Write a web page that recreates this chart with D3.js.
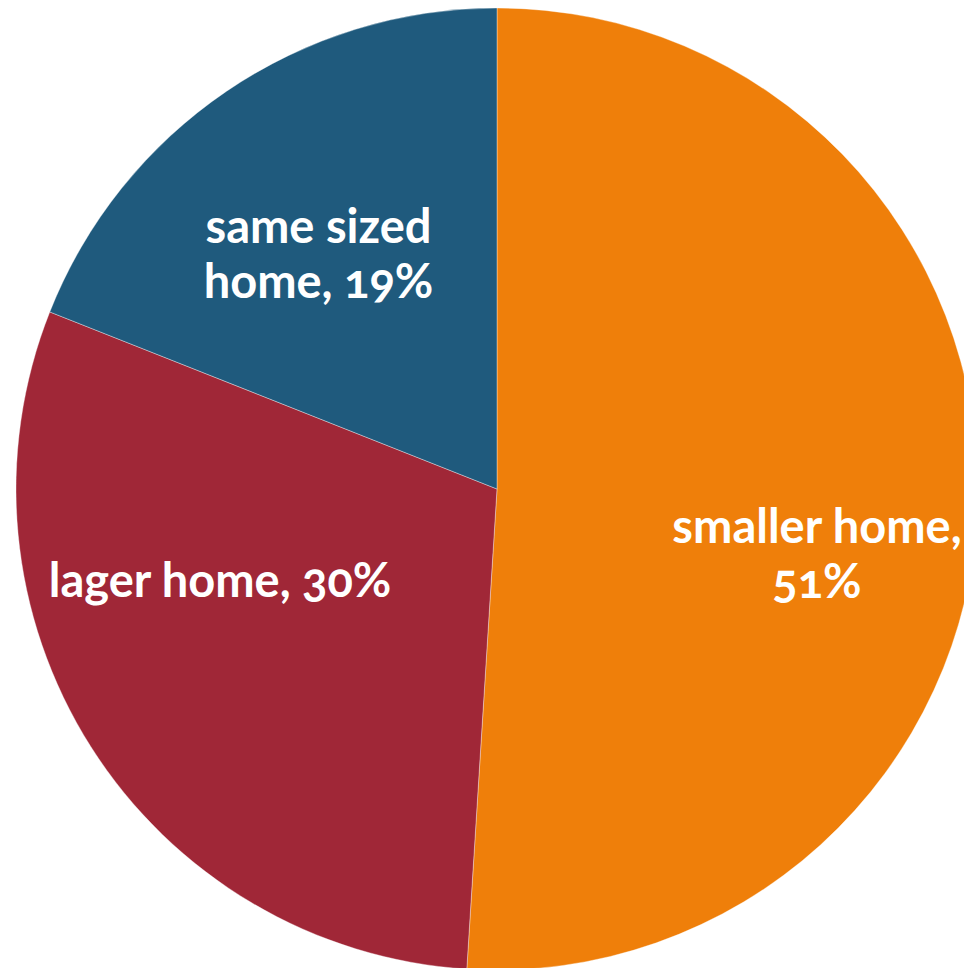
<!DOCTYPE html>
<html>
<head>
<meta charset="utf-8">
<script src="https://cdn.jsdelivr.net/npm/d3@7"></script>
<style>
  html, body { margin: 0; padding: 0; background: #fff; }
  svg { display: block; }
  .lbl {
    font-family: "Lato", "Open Sans", sans-serif;
    font-weight: 700;
    font-size: 47px;
    fill: #fff;
    font-feature-settings: "onum" 1;
    font-variant-numeric: oldstyle-nums;
  }
</style>
</head>
<body>
<svg id="chart" width="964" height="968"></svg>
<script>
// Share of respondents by preferred home size
const categories = ["smaller home", "lager home", "same sized home"];
const shares = [51, 30, 19];
const colors = ["#EF7F0A", "#A02737", "#1F5A7D"];
// Label text split into lines
const labelLines = [["smaller home,", "51%"], ["lager home, 30%"], ["same sized", "home, 19%"]];

const width = 964, height = 968;
const cx = 497, cy = 489, radius = 481;

const svg = d3.select("#chart");
const g = svg.append("g").attr("transform", `translate(${cx},${cy})`);

const pie = d3.pie().sort(null).value(d => d.v).startAngle(0).endAngle(2 * Math.PI);
const data = pie(categories.map((c, i) => ({ c, v: shares[i], col: colors[i], lines: labelLines[i] })));

const arc = d3.arc().innerRadius(0).outerRadius(radius);

g.selectAll("path.slice")
  .data(data)
  .enter().append("path")
  .attr("class", "slice")
  .attr("d", arc)
  .attr("fill", d => d.data.col)
  .attr("stroke", "rgba(255,255,255,0.45)")
  .attr("stroke-width", 0.8);

// Label placement: angle shift (radians) and distance as fraction of radius
const labelAngleShift = [0.218, 0.1937, -0.0881];
const labelRadiusFrac = [0.6865, 0.618, 0.5867];
const lineHeight = 55;

const labels = g.selectAll("text.lbl")
  .data(data)
  .enter().append("text")
  .attr("class", "lbl")
  .attr("text-anchor", "middle")
  .attr("transform", (d, i) => {
    const a = (d.startAngle + d.endAngle) / 2 + labelAngleShift[i];
    const r = radius * labelRadiusFrac[i];
    return `translate(${r * Math.sin(a)},${-r * Math.cos(a)})`;
  });

labels.each(function(d) {
  const n = d.data.lines.length;
  d3.select(this).selectAll("tspan")
    .data(d.data.lines)
    .enter().append("tspan")
    .attr("x", 0)
    .attr("y", (t, j) => (j - (n - 1) / 2) * lineHeight)
    .text(t => t);
});
</script>
</body>
</html>
